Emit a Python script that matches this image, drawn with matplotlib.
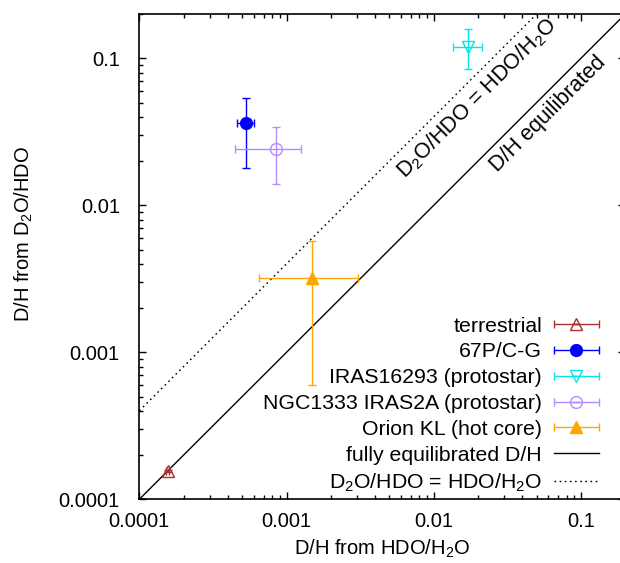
import numpy as np
import matplotlib
matplotlib.use("Agg")
import matplotlib.pyplot as plt
from matplotlib.legend_handler import HandlerErrorbar

plt.rcParams['font.family'] = ['Liberation Sans', 'DejaVu Sans']
plt.rcParams['mathtext.fontset'] = 'custom'
plt.rcParams['mathtext.rm'] = 'Liberation Sans'
plt.rcParams['mathtext.it'] = 'Liberation Sans'

# data: D/H from HDO/H2O (x), D/H from D2O/HDO (y)
names = ["terrestrial", "67P/C-G", "IRAS16293 (protostar)",
         "NGC1333 IRAS2A (protostar)", "Orion KL (hot core)"]
x_val = [1.56e-4, 5.3e-4, 1.70e-2, 8.5e-4, 1.48e-3]
x_lo = [0.03e-4, 0.7e-4, 0.34e-2, 4.0e-4, 0.83e-3]
x_hi = [0.03e-4, 0.7e-4, 0.42e-2, 4.0e-4, 1.57e-3]
y_val = [1.56e-4, 0.036, 0.120, 0.024, 3.2e-3]
y_lo = [0.03e-4, 0.018, 0.035, 0.010, 2.6e-3]
y_hi = [0.03e-4, 0.018, 0.037, 0.010, 2.5e-3]
colors = ["#a83232", "#0000ff", "#00e8e8", "#b48cff", "#ffa500"]
markers = ["^", "o", "v", "o", "^"]
filled = [False, True, False, False, True]

line_x = [1e-4, 0.3]
ratio_dotted = 4.0

fig = plt.figure(figsize=(6.2, 5.63), dpi=100)
ax = fig.add_axes([139.3 / 620, 63.7 / 563, 486 / 620, 485.3 / 563])
ax.set_xscale('log')
ax.set_yscale('log')

handles = []
for i in range(len(names)):
    mfc = colors[i] if filled[i] else 'none'
    h = ax.errorbar([x_val[i]], [y_val[i]],
                    xerr=[[x_lo[i]], [x_hi[i]]], yerr=[[y_lo[i]], [y_hi[i]]],
                    fmt=markers[i], color=colors[i], mfc=mfc, mec=colors[i],
                    ms=8.5, mew=1.0, elinewidth=1.0, capsize=3, capthick=1.0,
                    ecolor=colors[i], label=names[i], zorder=5)
    handles.append(h)

lx = np.array(line_x)
l1, = ax.plot(lx, lx, color='black', lw=1.0, label='fully equilibrated D/H')
l2, = ax.plot(lx, ratio_dotted * lx, color='black', lw=1.0, ls=(0, (1.2, 2.5)),
              label='D$_2$O/HDO = HDO/H$_2$O')
handles += [l1, l2]

ax.set_xlim(1e-4, 0.2)
ax.set_ylim(1e-4, 0.2)

ax.set_xticks([1e-4, 1e-3, 1e-2, 1e-1])
ax.set_xticklabels(["0.0001", "0.001", "0.01", "0.1"])
ax.set_yticks([1e-4, 1e-3, 1e-2, 1e-1])
ax.set_yticklabels(["0.0001", "0.001", "0.01", "0.1"])
ax.tick_params(which='both', direction='in', top=True, right=True, labelsize=14.5)
ax.tick_params(which='major', length=5, width=1)
ax.tick_params(which='minor', length=3, width=1)
ax.tick_params(axis='x', which='major', pad=9)
ax.tick_params(axis='y', which='major', pad=14)
for s in ax.spines.values():
    s.set_linewidth(1.2)

ax.set_xlabel("D/H from HDO/H$_2$O", fontsize=14.5, labelpad=5)
ax.set_ylabel("D/H from D$_2$O/HDO", fontsize=14.5, labelpad=14)
ax.yaxis.set_label_coords(-0.215, 0.547)

ax.text(0.0197, 0.053, "D$_2$O/HDO = HDO/H$_2$O", rotation=45, fontsize=15.5,
        ha='center', va='center', rotation_mode='anchor')
ax.text(0.060, 0.042, "D/H equilibrated", rotation=45, fontsize=15.5,
        ha='center', va='center', rotation_mode='anchor')

fs_leg = 15.3
leg = ax.legend(handles=handles, loc='lower right', frameon=False, markerfirst=False,
                fontsize=fs_leg, handlelength=2.15, labelspacing=0.32,
                borderaxespad=0.0, handletextpad=0.55,
                bbox_to_anchor=(0.964, -0.006),
                handler_map={type(handles[0]): HandlerErrorbar(xerr_size=1.08, yerr_size=0.0001)})

fig.savefig("out.png", dpi=100)
